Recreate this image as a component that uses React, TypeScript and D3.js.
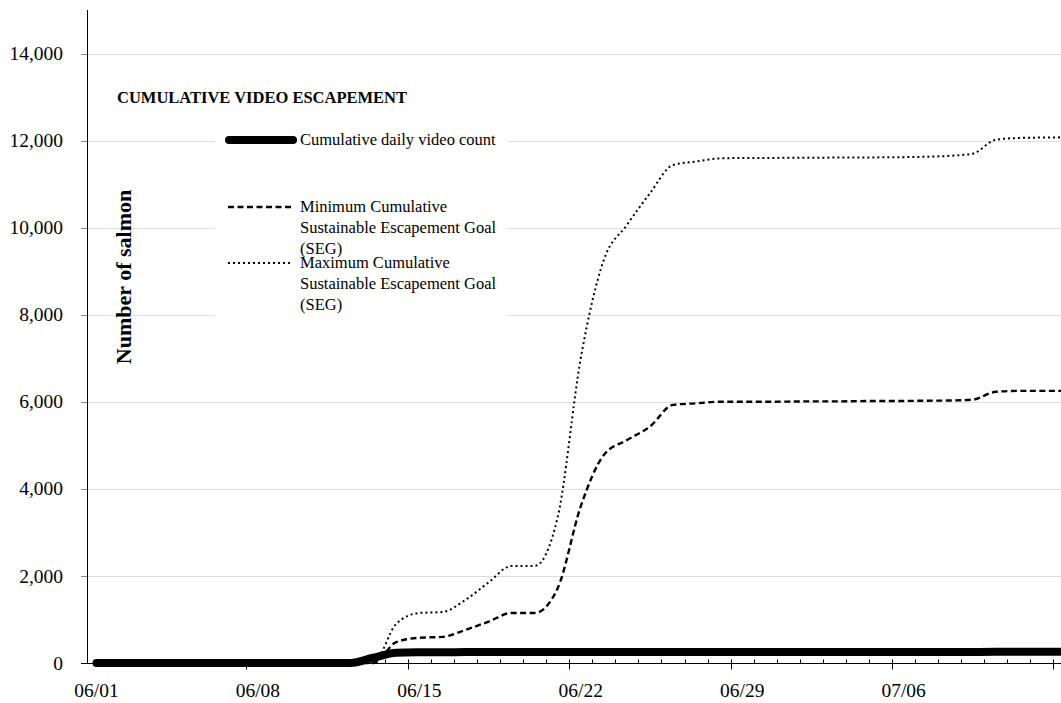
import React from "react";
import * as d3 from "d3";

// ---- data (values per day, starting 06/01) ----
const startDate = new Date(2023, 5, 1);
const videoCount = [0,0,0,0,0,0,0,0,0,0,0,0,120,235,245,248,250,250,250,252,252,254,255,255,255,255,255,255,255,255,255,255,255,255,255,255,255,255,255,258,258,258,258];
const minSEG = [0,0,0,0,0,0,0,0,0,0,0,0,0,480,580,600,760,950,1150,1150,1720,3600,4780,5120,5430,5930,5965,6000,6000,6000,6005,6010,6010,6015,6020,6020,6025,6030,6050,6230,6250,6250,6250];
const maxSEG = [0,0,0,0,0,0,0,0,0,0,0,0,0,900,1150,1170,1450,1850,2230,2230,3350,7000,9260,10060,10790,11440,11520,11590,11600,11600,11605,11605,11610,11610,11615,11620,11630,11650,11700,12020,12060,12070,12075];
const yTicks = [0, 2000, 4000, 6000, 8000, 10000, 12000, 14000];
const titleText = "CUMULATIVE VIDEO ESCAPEMENT";
const yLabel = "Number of salmon";
const legendItems = [
  { lines: ["Cumulative daily video count"], kind: "solid" },
  { lines: ["Minimum Cumulative", "Sustainable Escapement Goal", "(SEG)"], kind: "dashed" },
  { lines: ["Maximum Cumulative", "Sustainable Escapement Goal", "(SEG)"], kind: "dotted" },
];

const W = 1061, H = 703;
const FONT = "'Liberation Serif', 'Times New Roman', serif";

const styles: Record<string, any> = {
  solid: { stroke: "#000", strokeWidth: 8, strokeLinecap: "round", strokeLinejoin: "round" },
  dashed: { stroke: "#000", strokeWidth: 2.4, strokeDasharray: "6 3.5" },
  dotted: { stroke: "#000", strokeWidth: 2, strokeDasharray: "2 3" },
};

export default function App() {
  // point (day centre) positions; 06/01 centre at 96.5, 07/06 centre at 903.6
  const x = d3.scaleTime()
    .domain([startDate, d3.timeDay.offset(startDate, 35)])
    .range([96.5, 903.6]);
  const dayW = (903.6 - 96.5) / 35;
  const y = d3.scaleLinear().domain([0, 15000]).range([663, 10]);
  const dates = videoCount.map((_, i) => d3.timeDay.offset(startDate, i));
  const px = (i: number) => x(dates[i]);

  const line = d3.line<number>()
    .x((_, i) => px(i))
    .y((v) => y(v))
    .curve(d3.curveMonotoneX);

  const allDays = d3.timeDay.range(startDate, d3.timeDay.offset(startDate, 44));
  const fmt = d3.timeFormat("%m/%d");
  const x0 = 87.5, yBase = 663.5;

  return (
    <svg width={W} height={H} style={{ position: "absolute", left: 0, top: 0, background: "#fff" }}
      fontFamily={FONT}>
      <rect x={0} y={0} width={W} height={H} fill="#fff" />
      {/* gridlines */}
      {yTicks.filter((t) => t > 0).map((t) => {
        const yy = Math.round(y(t)) + 0.5;
        return (
          <g key={t}>
            <line x1={x0} x2={W} y1={yy} y2={yy} stroke="#bdbdbd" strokeWidth={1} strokeDasharray="1 1" />
            <line x1={81} x2={x0} y1={yy} y2={yy} stroke="#8a8a8a" strokeWidth={1} />
          </g>
        );
      })}
      {/* y tick labels */}
      {yTicks.map((t) => (
        <text key={t} x={63} y={y(t)} dy="0.34em" textAnchor="end" fontSize={19.5} fill="#000">
          {d3.format(",")(t)}
        </text>
      ))}
      {/* y axis */}
      <line x1={x0} x2={x0} y1={10} y2={yBase} stroke="#000" strokeWidth={1} />
      <line x1={81} x2={x0} y1={yBase} y2={yBase} stroke="#000" strokeWidth={1} />
      {/* x axis */}
      <line x1={x0} x2={W} y1={yBase} y2={yBase} stroke="#000" strokeWidth={1} />
      {allDays.map((d, i) => {
        const xx = Math.round(x(d) - dayW / 2) + 0.5;
        const major = i % 7 === 0;
        if (xx < x0) return null;
        return (
          <line key={i} x1={xx} x2={xx} y1={yBase - 4} y2={major ? yBase + 6 : yBase}
            stroke="#000" strokeWidth={1} />
        );
      })}
      {allDays.filter((d, i) => i % 7 === 0 && x(d) + 25 < W).map((d, i) => (
        <text key={i} x={x(d)} y={697} textAnchor="middle" fontSize={19.5} fill="#000">
          {fmt(d)}
        </text>
      ))}
      {/* series */}
      <path d={line(maxSEG) || ""} fill="none" {...styles.dotted} />
      <path d={line(minSEG) || ""} fill="none" {...styles.dashed} />
      <path d={line(videoCount) || ""} fill="none" {...styles.solid} />
      {/* title */}
      <text x={117} y={103} fontSize={16.5} fontWeight="bold" fill="#000">{titleText}</text>
      {/* legend */}
      <rect x={215} y={120} width={293} height={215} fill="#fff" />
      {legendItems.map((item, k) => {
        const sy = [140, 207, 263][k];
        const base = [145, 212, 268][k];
        return (
          <g key={k}>
            <line x1={item.kind === "solid" ? 229 : 228} x2={item.kind === "solid" ? 293 : 292}
              y1={sy} y2={sy} {...styles[item.kind]} />
            {item.lines.map((t, j) => (
              <text key={j} x={300} y={base + j * 21} fontSize={16.5} fill="#000">{t}</text>
            ))}
          </g>
        );
      })}
      {/* y label */}
      <text transform={`translate(131,277) rotate(-90)`} textAnchor="middle" fontSize={22}
        fontWeight="bold" fill="#000">{yLabel}</text>
    </svg>
  );
}
